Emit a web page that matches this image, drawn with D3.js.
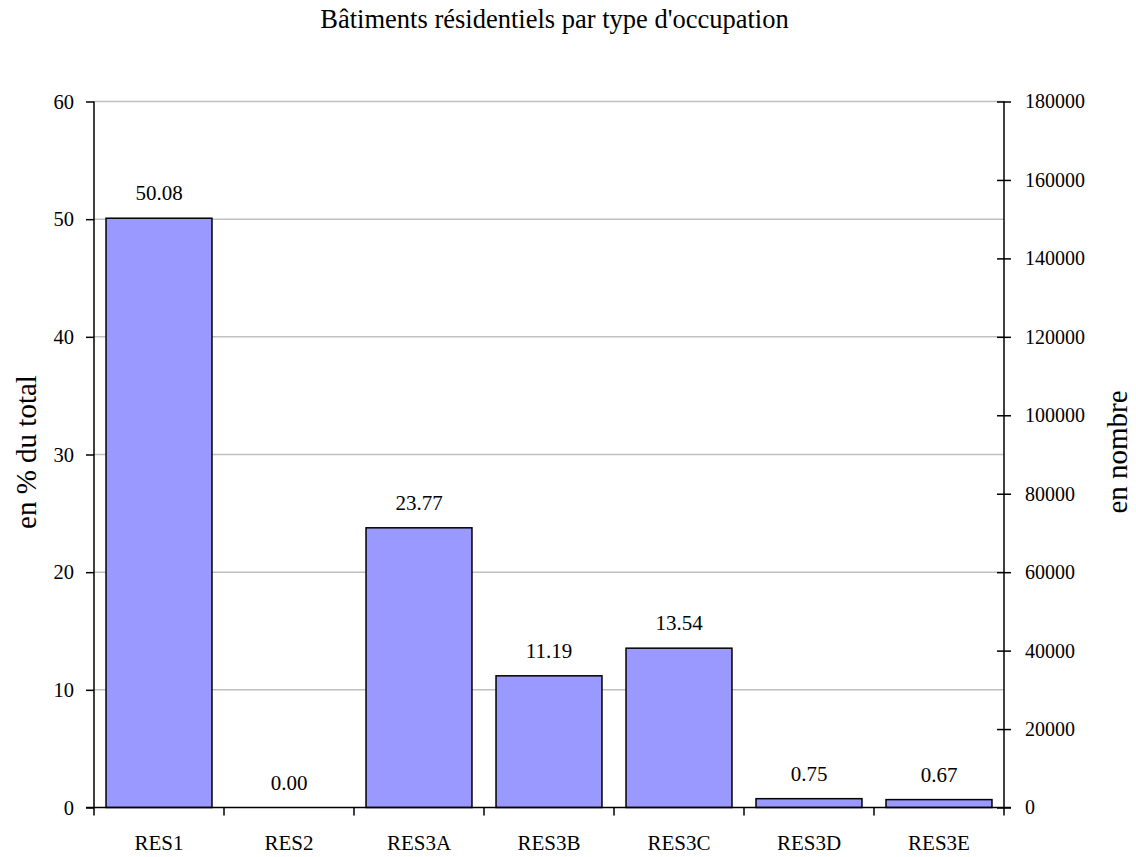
<!DOCTYPE html>
<html><head><meta charset="utf-8">
<script src="https://cdn.jsdelivr.net/npm/d3@7"></script>
<style>body{margin:0;background:#fff;}svg{display:block;}text{font-family:"Liberation Serif","Times New Roman",serif;fill:#000;}</style>
</head><body>
<script>
const categories = ["RES1","RES2","RES3A","RES3B","RES3C","RES3D","RES3E"];
const percentValues = [50.08, 0.00, 23.77, 11.19, 13.54, 0.75, 0.67];
const leftTicks = [0,10,20,30,40,50,60];
const rightTicks = [0,20000,40000,60000,80000,100000,120000,140000,160000,180000];
const title = "Bâtiments résidentiels par type d'occupation";
const leftLabel = "en % du total";
const rightLabel = "en nombre";

const W = 1136, H = 857;
const m = {left:94, right:1004, top:101.5, bottom:807.5};
const fs = 21;

const svg = d3.select("body").append("svg").attr("width",W).attr("height",H);

const x = d3.scaleBand().domain(categories).range([m.left,m.right]).paddingInner(0.185).paddingOuter(0.0925);
const y = d3.scaleLinear().domain([0,60]).range([m.bottom,m.top]);
const y2 = d3.scaleLinear().domain([0,180000]).range([m.bottom,m.top]);

// gridlines
svg.append("g").selectAll("line").data(leftTicks.filter(d=>d>0)).join("line")
  .attr("x1",m.left).attr("x2",m.right).attr("y1",d=>y(d)).attr("y2",d=>y(d))
  .attr("stroke","#c0c0c0").attr("stroke-width",1.5);

// bars
svg.append("g").selectAll("rect").data(percentValues).join("rect")
  .attr("x",(d,i)=>x(categories[i])).attr("width",x.bandwidth())
  .attr("y",d=>y(d)).attr("height",d=>y(0)-y(d))
  .attr("fill","#9999ff").attr("stroke","#000").attr("stroke-width",1.5);

// value labels
svg.append("g").selectAll("text").data(percentValues).join("text")
  .attr("x",(d,i)=>x(categories[i])+x.bandwidth()/2).attr("y",d=>y(d)-18)
  .attr("text-anchor","middle").attr("font-size",fs).text(d=>d.toFixed(2));

// left axis
const gl = svg.append("g").attr("transform",`translate(${m.left},0)`)
  .call(d3.axisLeft(y).tickValues(leftTicks).tickSize(8).tickPadding(12).tickFormat(d3.format("d")));
gl.select(".domain").attr("stroke","#000").attr("stroke-width",1.5).attr("d",`M0,${m.top}V${m.bottom}`);
gl.selectAll(".tick line").attr("stroke","#000").attr("stroke-width",1.5);
gl.selectAll("text").attr("font-size",20.5).attr("font-family","Liberation Serif").attr("fill","#000");

// right axis
const gr = svg.append("g").attr("transform",`translate(${m.right},0)`)
  .call(d3.axisRight(y2).tickValues(rightTicks).tickSize(7).tickPadding(14).tickFormat(d3.format("d")));
gr.select(".domain").attr("stroke","#000").attr("stroke-width",1.5).attr("d",`M0,${m.top}V${m.bottom}`);
gr.selectAll(".tick line").attr("stroke","#000").attr("stroke-width",1.5).attr("x1",-7);
gr.selectAll("text").attr("font-size",20).attr("font-family","Liberation Serif").attr("fill","#000");

// bottom axis
const boundaries = categories.map(c=>x(c)-x.step()*x.paddingInner()/2).concat([m.right]);
svg.append("line").attr("x1",m.left-8).attr("x2",m.right+7).attr("y1",m.bottom).attr("y2",m.bottom)
  .attr("stroke","#000").attr("stroke-width",1.5);
svg.append("g").selectAll("line").data(boundaries).join("line")
  .attr("x1",d=>d).attr("x2",d=>d).attr("y1",m.bottom).attr("y2",m.bottom+8)
  .attr("stroke","#000").attr("stroke-width",1.5);
svg.append("g").selectAll("text").data(categories).join("text")
  .attr("x",d=>x(d)+x.bandwidth()/2).attr("y",850)
  .attr("text-anchor","middle").attr("font-size",fs).text(d=>d);

// title
svg.append("text").attr("x",554.5).attr("y",28).attr("text-anchor","middle").attr("font-size",26.5).text(title);

// axis labels
svg.append("text").attr("transform","translate(36,452) rotate(-90)").attr("text-anchor","middle").attr("font-size",29).text(leftLabel);
svg.append("text").attr("transform","translate(1127,452) rotate(-90)").attr("text-anchor","middle").attr("font-size",29).text(rightLabel);
</script>
</body></html>
